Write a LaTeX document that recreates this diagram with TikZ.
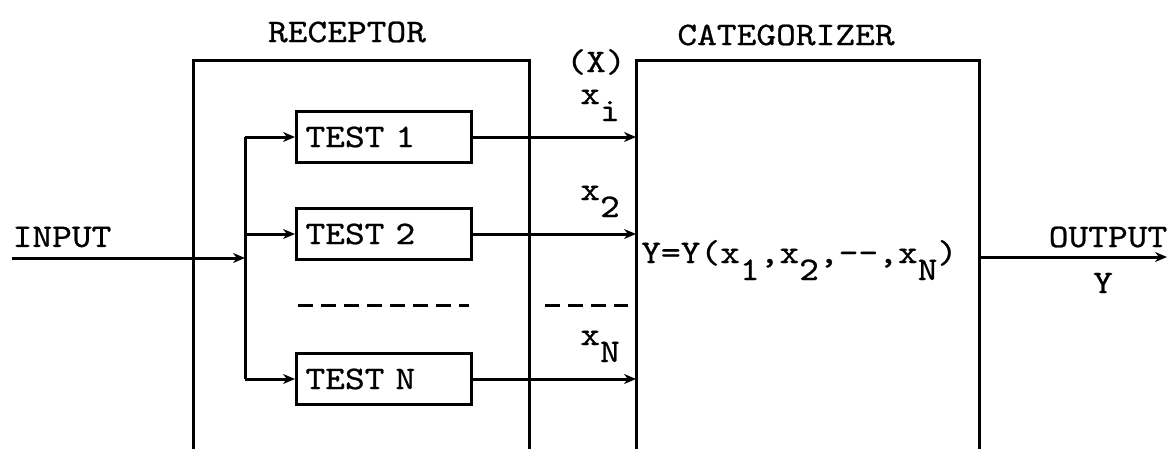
\documentclass[tikz,border=0pt]{standalone}
\usepackage{fontspec}
\newfontfamily\tw{lmmono10-regular.otf}[FakeStretch=1.14,FakeBold=0.7,WordSpace=1.3]
\usetikzlibrary{arrows.meta}
\newcommand\lowr[1]{\raisebox{-17pt}{#1}}
\begin{document}
\begin{tikzpicture}[x=1pt,y=-1pt,
  font={\tw\fontsize{33}{36}\selectfont},
  wire/.style={line width=3pt},
  arr/.style={wire,-{Stealth[length=12pt,width=10pt]}},
  dline/.style={wire,dash pattern=on 15pt off 8pt},
  testbox/.style={draw,line width=3pt,minimum width=175pt,minimum height=51pt,
    text width=157pt,inner xsep=9pt,inner ysep=0pt,align=left},
  lbl/.style={inner sep=0pt}]
\useasboundingbox (0,0) rectangle (1168,448);
% boxes (open at bottom)
\coordinate (recTL) at (193,60);
\coordinate (recTR) at (529,60);
\coordinate (catTL) at (636,60);
\coordinate (catTR) at (979,60);
\draw[wire] (193,452) -- (recTL) -- (recTR) -- (529,452);
\draw[wire] (636,452) -- (catTL) -- (catTR) -- (979,452);
\node[lbl] (rlab) at (347,32) {RECEPTOR};
\node[lbl] (clab) at (786,35) {CATEGORIZER};
% tests
\node[testbox] (test1) at (384,137) {TEST 1};
\node[testbox] (test2) at (384,234) {TEST 2};
\node[testbox] (testN) at (384,379) {TEST N};
% bus
\coordinate (busx) at (245,0);
\coordinate (b1) at (test1.west -| busx);
\coordinate (b2) at (test2.west -| busx);
\coordinate (bN) at (testN.west -| busx);
\draw[wire] (b1) -- (bN);
\draw[arr] (b1) -- (test1.west);
\draw[arr] (b2) -- (test2.west);
\draw[arr] (bN) -- (testN.west);
% input
\coordinate (inS) at (12,258);
\draw[arr] (inS) -- (inS -| busx);
\node[lbl] (inlab) at (62,237) {INPUT};
% outputs of tests
\coordinate (catx) at (636,0);
\draw[arr] (test1.east) -- (test1.east -| catx);
\draw[arr] (test2.east) -- (test2.east -| catx);
\draw[arr] (testN.east) -- (testN.east -| catx);
% dashed lines
\coordinate (d1a) at (298,305);
\coordinate (d1b) at (469,305);
\coordinate (d2a) at (545,305);
\coordinate (d2b) at (628,305);
\draw[dline] (d1a) -- (d1b);
\draw[dline] (d2a) -- (d2b);
% labels of signals
\node[lbl] (X) at (596,62) {(X)};
\node[lbl,anchor=base east] (xi) at (620,104) {x\lowr{i}};
\node[lbl,anchor=base east] (x2) at (620,200) {x\lowr{2}};
\node[lbl,anchor=base east] (xN) at (620,345) {x\lowr{N}};
% formula
\node[lbl,anchor=base west] (form) at (641,263) {Y=Y(x\lowr{1},x\lowr{2},--,x\lowr{N})};
% output
\coordinate (outS) at (979,257);
\coordinate (outE) at (1167,257);
\draw[arr] (outS) -- (outE);
\node[lbl] (olab) at (1108,237) {OUTPUT};
\node[lbl] (ylab) at (1103,283) {Y};
\end{tikzpicture}
\end{document}
